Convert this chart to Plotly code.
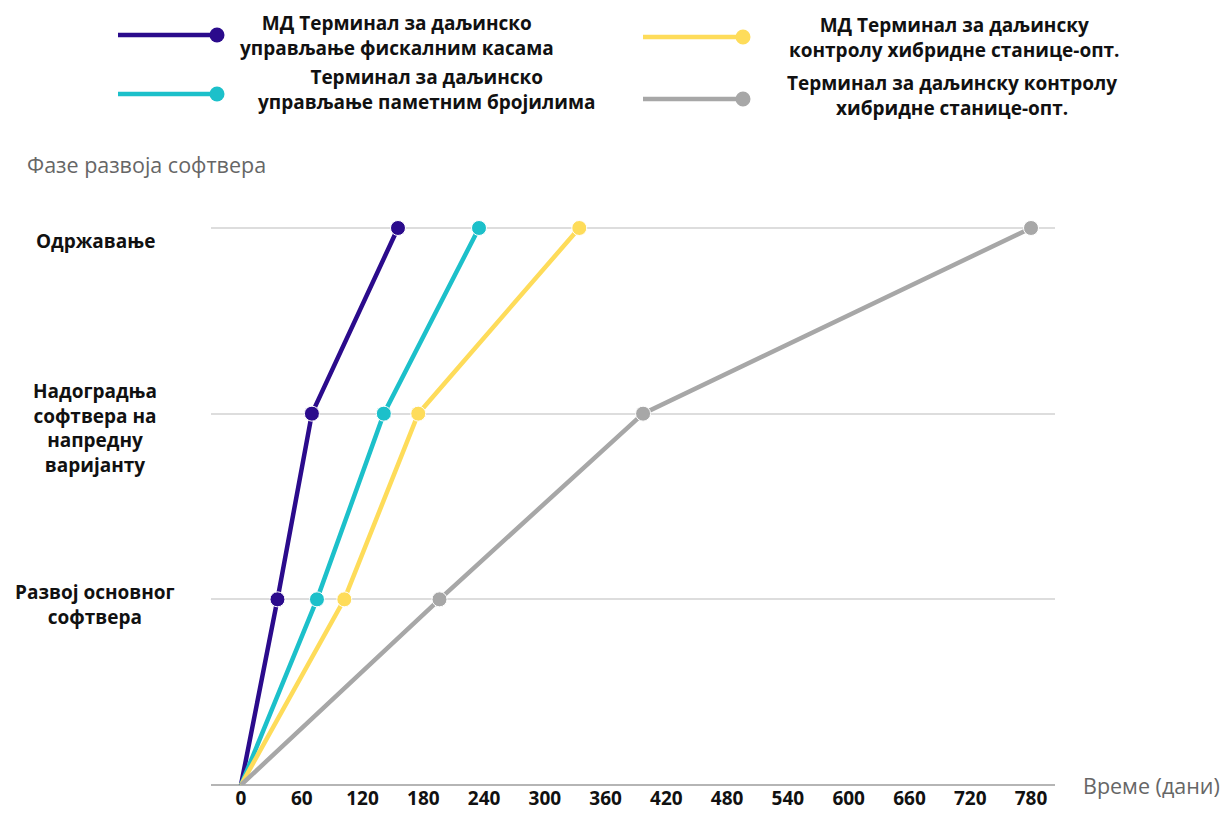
import plotly.graph_objects as go

# --- data -------------------------------------------------------------
day_ticks = [0, 60, 120, 180, 240, 300, 360, 420, 480, 540, 600, 660, 720, 780]
phase_levels = [0, 1, 2, 3]
phase_labels = [
    "Развој основног<br>софтвера",
    "Надоградња<br>софтвера на<br>напредну<br>варијанту",
    "Одржавање",
]

series_names = [
    "МД Терминал за даљинско<br>управљање фискалним касама",
    "Терминал за даљинско<br>управљање паметним бројилима",
    "МД Терминал за даљинску<br>контролу хибридне станице-опт.",
    "Терминал за даљинску контролу<br>хибридне станице-опт.",
]
md_fiscal_days = [0, 36, 70, 155]
smart_meter_days = [0, 75, 141, 235]
md_hybrid_days = [0, 102, 175, 334]
hybrid_days = [0, 196, 397, 780]

series_values = [md_fiscal_days, smart_meter_days, md_hybrid_days, hybrid_days]
series_colors = ["#2b0b8c", "#1cc0ca", "#fedc5a", "#a7a7a7"]

# --- geometry ---------------------------------------------------------
W, H = 1224, 819
L, R, T, B = 211, 169, 150, 34
PW, PH = W - L - R, H - T - B
px_per_day = 790 / 780
x_min = -30 / px_per_day
x_max = 780 + 24 / px_per_day
px_per_level = 185.67
y_max = PH / px_per_level

FONT = "Open Sans"
BOLD = dict(family=FONT, size=19, color="#111111", weight="bold")


def paper(xp, yp):
    """pixel position -> paper coordinates"""
    return (xp - L) / PW, (H - B - yp) / PH


fig = go.Figure()

for name, vals, color in zip(series_names, series_values, series_colors):
    fig.add_trace(go.Scatter(
        x=vals,
        y=phase_levels,
        mode="lines+markers",
        name=name.replace("<br>", " "),
        line=dict(color=color, width=4.5),
        marker=dict(color=color, size=[0] + [15] * (len(vals) - 1), opacity=1),
        showlegend=False,
        hoverinfo="x+name",
    ))

annotations = []
shapes = []

# phase labels on the left, centred in a column beside the grid
label_offset = [-4.7, -14.3, -13]
label_x, _ = paper(95, 0)
for lvl, text, off in zip(phase_levels[1:], phase_labels, label_offset):
    annotations.append(dict(
        x=label_x, xref="paper", y=lvl, yref="y", yshift=off,
        text=text, showarrow=False, xanchor="center", yanchor="middle",
        align="center", font=BOLD,
    ))

# axis titles
tx, ty = paper(25, 165)
annotations.append(dict(
    x=tx, y=ty, xref="paper", yref="paper", text="Фазе развоја софтвера",
    showarrow=False, xanchor="left", yanchor="middle",
    font=dict(family=FONT, size=21.5, color="#666666"),
))
tx, ty = paper(1081, 785)
annotations.append(dict(
    x=tx, y=ty, xref="paper", yref="paper", text="Време (дани)",
    showarrow=False, xanchor="left", yanchor="middle",
    font=dict(family=FONT, size=21.5, color="#666666"),
))

# legend: line with a dot at its end, two-line caption to the right
legend_layout = [
    (118, 217, 35, 397, 35),
    (118, 217, 94, 426, 89.5),
    (643, 743, 37, 954, 37.5),
    (643, 743, 99, 952, 96),
]
for (lx0, lx1, ly, cx, cy), name, color in zip(legend_layout, series_names, series_colors):
    x0, y0 = paper(lx0, ly)
    x1, _ = paper(lx1, ly)
    shapes.append(dict(type="line", xref="paper", yref="paper",
                       x0=x0, x1=x1, y0=y0, y1=y0,
                       line=dict(color=color, width=4.5)))
    r = 7.5
    cx0, cy0 = paper(lx1 - r, ly + r)
    cx1, cy1 = paper(lx1 + r, ly - r)
    shapes.append(dict(type="circle", xref="paper", yref="paper",
                       x0=cx0, x1=cx1, y0=cy0, y1=cy1,
                       fillcolor=color, line=dict(color=color, width=0)))
    ax, ay = paper(cx, cy)
    annotations.append(dict(
        x=ax, y=ay, xref="paper", yref="paper", text=name,
        showarrow=False, xanchor="center", yanchor="middle", align="center",
        font=BOLD,
    ))

fig.update_layout(
    width=W, height=H,
    margin=dict(l=L, r=R, t=T, b=B, autoexpand=False),
    paper_bgcolor="white", plot_bgcolor="white",
    xaxis=dict(
        range=[x_min, x_max], tickvals=day_ticks,
        ticktext=[str(v) for v in day_ticks],
        showgrid=False, zeroline=False, showline=False, ticks="",
        tickfont=dict(family=FONT, size=19, color="#111111", weight="bold"),
    ),
    yaxis=dict(
        range=[0, y_max], tickvals=phase_levels, showticklabels=False,
        showgrid=True, gridcolor="#dddddd", gridwidth=1.5,
        zeroline=True, zerolinecolor="#b5b5b5", zerolinewidth=2,
        showline=False, ticks="",
    ),
    annotations=annotations,
    shapes=shapes,
)

fig.write_html("out.html")
